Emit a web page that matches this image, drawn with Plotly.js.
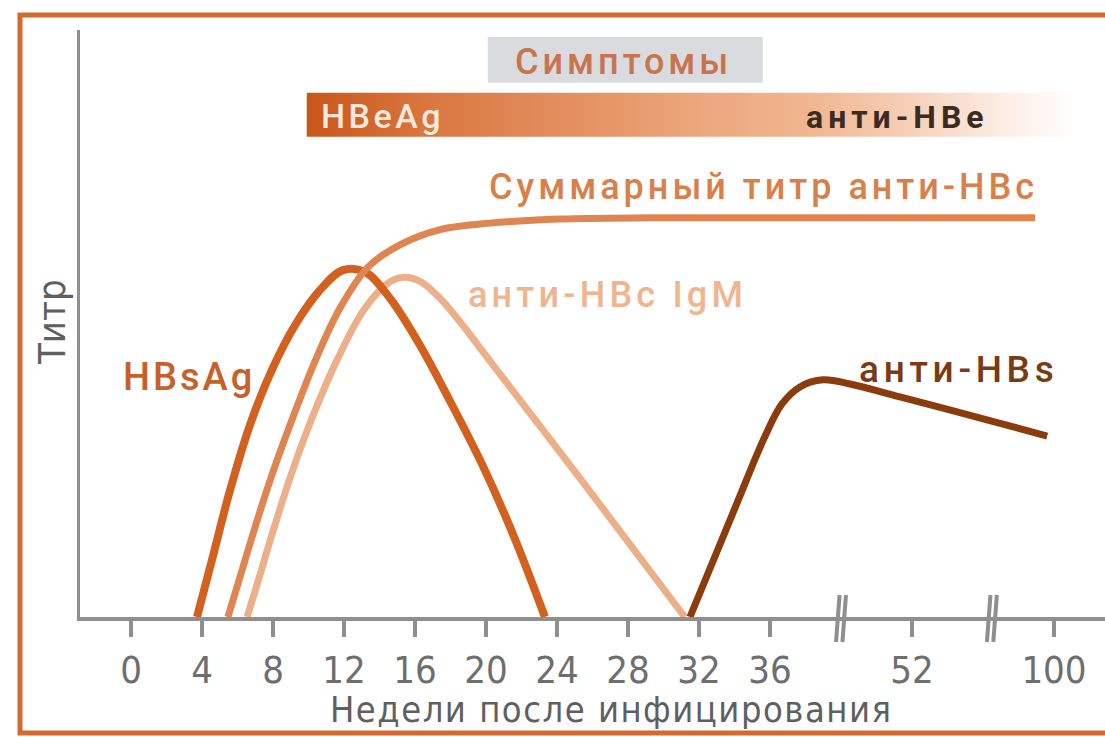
<!DOCTYPE html>
<html><head><meta charset="utf-8">
<script src="https://cdn.plot.ly/plotly-3.0.1.min.js"></script>
<style>html,body{margin:0;padding:0;background:#fff}#chart{width:1105px;height:737px}</style>
</head><body><div id="chart"></div>
<script>
// ---- data (weeks after infection, relative titre 0..100) ----
const hbsagWeeks = [3.72, 4.56, 5.58, 6.70, 7.94, 9.24, 10.65, 11.94, 13.18, 14.59, 16.28, 17.97, 19.83, 21.63, 23.32];
const hbsagTitre = [0, 9.7, 21.6, 32.7, 42.1, 49.7, 55.7, 59.1, 58.8, 54.3, 46.3, 36.8, 25.7, 13.3, 0];

const totalHBcWeeks = [5.46, 6.14, 6.99, 7.94, 9.07, 10.37, 11.77, 13.35, 15.15, 17.41, 20.23, 24.17, 29.24, 36, 52, 93.6];
const totalHBcTitre = [0, 6.8, 15.3, 24.2, 33.6, 43.6, 52.6, 59.6, 63.4, 66.0, 67.1, 67.8, 68.0, 68.0, 68.0, 68.0];

const igmWeeks = [6.54, 7.15, 7.94, 8.96, 10.20, 11.66, 13.18, 14.59, 15.44, 16.28, 17.41, 18.82, 20.23, 25.58, 31.2];
const igmTitre = [0, 6.0, 14.0, 23.7, 33.9, 44.1, 52.6, 57.1, 57.9, 57.2, 54.3, 49.2, 43.6, 22.5, 0];

const antiHBsWeeks = [31.49, 34.03, 35.72, 37.35, 39.38, 41.97, 45.01, 50.65, 81.8, 97.7];
const antiHBsTitre = [0, 18.6, 30.8, 36.3, 39.2, 40.4, 39.7, 37.5, 33.0, 30.8];

const hbeagPhase = [9.9, 107];      // HBeAg -> анти-HBe bar (weeks)
const symptomsPhase = [20.1, 35.6]; // symptoms (weeks)

const tickWeeks = [0, 4, 8, 12, 16, 20, 24, 28, 32, 36, 52, 100];
const tickLabels = ['0','4','8','12','16','20','24','28','32','36','52','100'];

// ---- broken x axis: 0-36 linear, 36-52 compressed x2, 52-100 compressed x6 ----
function pos(w){ if (w <= 36) return w; if (w <= 52) return 36 + (w-36)/2; return 44 + (w-52)/6; }
const P = a => a.map(pos);

const L = 80, T = 30, W = 1025, H = 587;
const px = v => (v - L) / W;
const py = v => (T + H - v) / H;

const grey = '#8f8f8f';
const labelFont = 'Roboto, "DejaVu Sans", sans-serif';
const narrow = '"Liberation Sans Narrow", "DejaVu Sans Condensed", Roboto, sans-serif';

const line = (x, y, color, w) => ({x: P(x), y: y, mode: 'lines', type: 'scatter',
  line: {color: color, width: w, shape: 'spline', smoothing: 1}, hoverinfo: 'skip', showlegend: false});

const data = [
  {x: P([hbeagPhase[0], hbeagPhase[1], hbeagPhase[1], hbeagPhase[0], hbeagPhase[0]]),
   y: [89.3, 89.3, 81.8, 81.8, 89.3], type: 'scatter', mode: 'none', fill: 'toself',
   fillgradient: {type: 'horizontal', colorscale: [[0,'#c9561a'],[0.17,'#da7942'],[0.5,'#eca57a'],[0.64,'#f0b48e'],[0.77,'#f5ccb2'],[0.85,'#f9e0d0'],[0.915,'#fcefe6'],[0.98,'#fffaf7'],[1,'#ffffff']]},
   hoverinfo: 'skip', showlegend: false},
  line(igmWeeks, igmTitre, '#ebb089', 7),
  line(hbsagWeeks, hbsagTitre, '#d2601e', 8),
  line(totalHBcWeeks, totalHBcTitre, '#de8552', 7),
  line(antiHBsWeeks, antiHBsTitre, '#8b3c0c', 7)
];

const breakMarks = [40, 48.5];
const shapes = [
  {type: 'rect', xref: 'paper', yref: 'paper', x0: px(20), x1: px(1125), y0: py(733), y1: py(15),
   line: {color: '#d4692f', width: 5}, fillcolor: 'rgba(0,0,0,0)', layer: 'below'},
  {type: 'rect', xref: 'x', yref: 'y', x0: pos(symptomsPhase[0]), x1: pos(symptomsPhase[1]), y0: 91.0, y1: 98.8,
   line: {width: 0}, fillcolor: '#d9dbde', layer: 'below'}
];
breakMarks.forEach(b => {
  [-0.18, 0.18].forEach(d => shapes.push({type: 'line', xref: 'x', yref: 'paper',
    x0: b + d - 0.1, x1: b + d + 0.1, y0: py(642), y1: py(595), line: {color: grey, width: 4}}));
});

const ann = (text, x, y, size, color, xanchor, weight, ls) => ({
  text: '<span style="letter-spacing:' + ls + 'px">' + text + '</span>',
  x: px(x), y: py(y), xref: 'paper', yref: 'paper',
  showarrow: false, xanchor: xanchor || 'center', yanchor: 'middle',
  font: {family: labelFont, size: size, color: color, weight: weight || 500}});

const annotations = [
  ann('Симптомы', 623, 62, 36, '#c87450', 'center', 500, 4),
  ann('HBeAg', 319, 116, 34, '#fde9dc', 'left', 500, 3.5),
  ann('анти-HBe', 897, 117, 32, '#3b2b22', 'center', 700, 5),
  ann('Суммарный титр анти-HBc', 763, 187, 36, '#d9804a', 'center', 500, 4),
  ann('анти-HBc IgM', 466, 295, 36, '#efb58e', 'left', 500, 4.2),
  ann('HBsAg', 121, 377, 38, '#c8602a', 'left', 500, 3),
  ann('анти-HBs', 958, 369, 37, '#7a3a14', 'center', 500, 4.7),
  {text: '<span style="letter-spacing:1.5px">Недели после инфицирования</span>', x: px(611), y: py(709), xref: 'paper', yref: 'paper', showarrow: false,
   xanchor: 'center', yanchor: 'middle', font: {family: narrow, size: 36, color: '#5f5f5f'}},
  {text: 'Титр', x: px(52), y: py(322), xref: 'paper', yref: 'paper', showarrow: false, textangle: -90,
   xanchor: 'center', yanchor: 'middle', font: {family: narrow, size: 38, color: '#5f5f5f'}}
];

const layout = {
  width: 1105, height: 737,
  margin: {l: L, r: 1105 - L - W, t: T, b: 737 - T - H},
  paper_bgcolor: '#ffffff', plot_bgcolor: '#ffffff',
  xaxis: {range: [(L - 131) / 17.75, (L - 131) / 17.75 + W / 17.75], showgrid: false, zeroline: false,
          showline: true, linecolor: grey, linewidth: 4, ticks: 'outside', ticklen: 16, tickwidth: 4, tickcolor: grey,
          tickmode: 'array', tickvals: P(tickWeeks), ticktext: tickLabels,
          tickfont: {family: narrow, size: 38, color: '#6e6e6e'}, fixedrange: true},
  yaxis: {range: [0, 100], showgrid: false, zeroline: false, showline: true, linecolor: grey, linewidth: 3,
          showticklabels: false, ticks: '', fixedrange: true},
  shapes: shapes, annotations: annotations, showlegend: false
};

Plotly.newPlot('chart', data, layout, {staticPlot: true});
</script></body></html>
